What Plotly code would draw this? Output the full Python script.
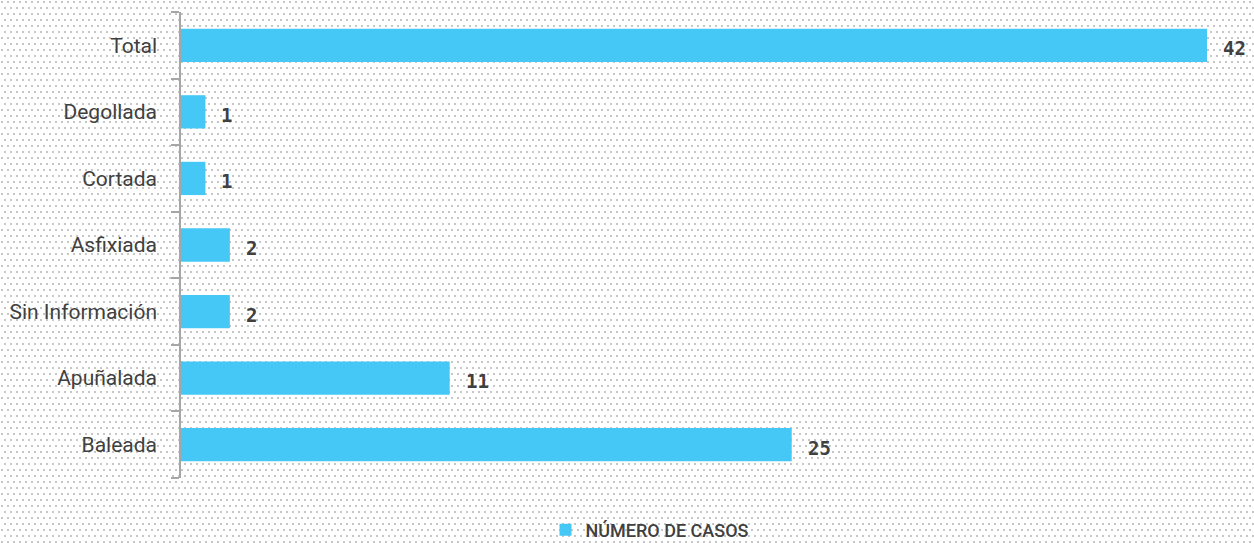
import base64
import plotly.graph_objects as go

categories = ["Baleada", "Apuñalada", "Sin Información", "Asfixiada", "Cortada", "Degollada", "Total"]
values = [25, 11, 2, 2, 1, 1, 42]
series_name = "NÚMERO DE CASOS"

W, H = 1254, 543
ML, MR, MT, MB = 181, 47, 12, 65
PW, PH = W - ML - MR, H - MT - MB

BAR_COLOR = "#45C8F5"
TEXT_COLOR = "#404040"
LABEL_FONT = "Roboto, sans-serif"

svg = (
    f'<svg xmlns="http://www.w3.org/2000/svg" width="{W}" height="{H}" viewBox="0 0 {W} {H}">'
    '<defs><pattern id="p" width="6" height="12" patternUnits="userSpaceOnUse">'
    '<rect x="1" y="1" width="2" height="2" fill="#c6c6c6"/>'
    '<rect x="4" y="7" width="2" height="2" fill="#c6c6c6"/>'
    '</pattern></defs>'
    f'<rect width="{W}" height="{H}" fill="#ffffff"/>'
    f'<rect width="{W}" height="{H}" fill="url(#p)"/></svg>'
)
bg_src = "data:image/svg+xml;base64," + base64.b64encode(svg.encode()).decode()

fig = go.Figure()
fig.add_trace(go.Bar(
    x=values, y=categories, orientation="h", name=series_name,
    marker=dict(color=BAR_COLOR, line=dict(width=0)),
    showlegend=True, hoverinfo="x+y",
))

for c, v in zip(categories, values):
    fig.add_annotation(
        x=v, y=c, text=str(v), showarrow=False, xanchor="left", yanchor="middle",
        xshift=14, yshift=-3,
        font=dict(family="DejaVu Sans Mono, monospace", size=19, color=TEXT_COLOR, weight="bold"),
    )

fig.add_layout_image(dict(
    source=bg_src, xref="paper", yref="paper",
    x=-ML / PW, y=1 + MT / PH, sizex=W / PW, sizey=H / PH,
    xanchor="left", yanchor="top", sizing="stretch", layer="below",
))

fig.update_layout(
    width=W, height=H,
    margin=dict(l=ML, r=MR, t=MT, b=MB, pad=0, autoexpand=False),
    paper_bgcolor="#ffffff", plot_bgcolor="rgba(0,0,0,0)",
    bargap=0.5,
    xaxis=dict(range=[0, 42], visible=False, fixedrange=True, automargin=False),
    yaxis=dict(
        type="category", categoryorder="array", categoryarray=categories,
        showline=True, linecolor="#a6a6a6", linewidth=1.5,
        ticks="outside", tickson="boundaries", ticklen=8, tickcolor="#a6a6a6", tickwidth=1.5,
        ticklabelstandoff=18, automargin=False,
        tickfont=dict(family=LABEL_FONT, size=21, color=TEXT_COLOR),
        showgrid=False, zeroline=False, fixedrange=True,
    ),
    showlegend=True,
    legend=dict(
        orientation="h", x=(650 - ML) / PW, xanchor="center", y=(MT + PH - 530) / PH, yanchor="middle",
        font=dict(family=LABEL_FONT, size=18, color=TEXT_COLOR, weight=500),
        bgcolor="rgba(0,0,0,0)", itemwidth=30,
    ),
)

fig.write_html(
    "out.html",
    config={"displayModeBar": False},
    post_script="document.body.style.margin='0';document.body.style.overflow='hidden';",
)
